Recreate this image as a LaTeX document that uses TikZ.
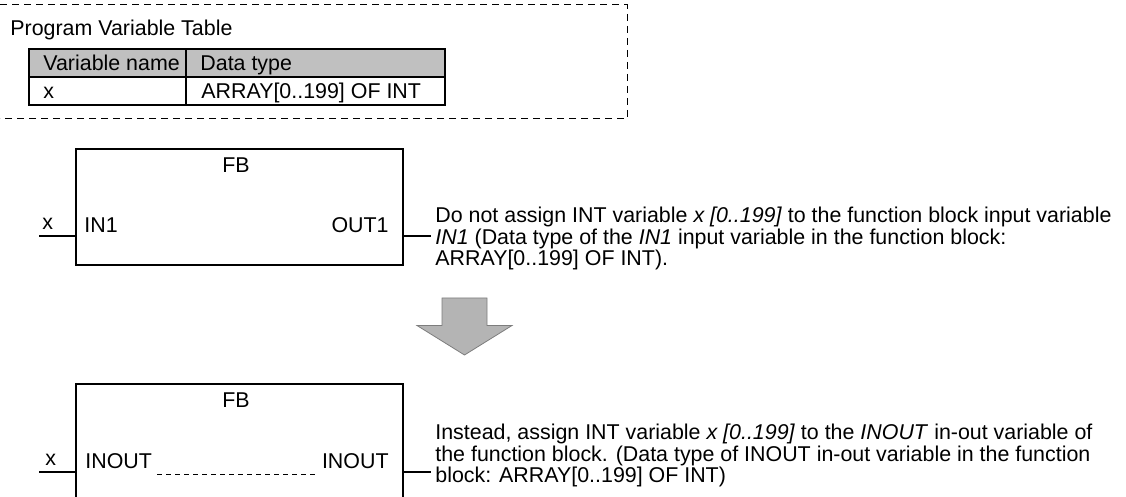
\documentclass[tikz,border=0pt]{standalone}
\usepackage{fontspec}
\setmainfont{Liberation Sans}
\usetikzlibrary{positioning}
\definecolor{hdrgray}{RGB}{192,192,192}
\definecolor{arrowgray}{RGB}{180,180,180}
\definecolor{arrowedge}{RGB}{125,125,125}

\begin{document}
\begin{tikzpicture}[x=0.5pt,y=-0.5pt,
  every node/.style={font=\fontsize{10.7}{11}\selectfont,inner sep=0pt},
  dashframe/.style={line width=.5pt,dash pattern=on 3.6pt off 2.4pt},
  tblline/.style={line width=.7pt},
  fbbox/.style={draw,line width=.65pt,minimum width=163.5pt,minimum height=58pt},
  wire/.style={line width=.6pt},
  portlbl/.style={anchor=base west},
  remark/.style={anchor=base west,align=left,font=\fontsize{10.7}{10.75}\selectfont},
  bigarrow/.style={fill=arrowgray,draw=arrowedge,line width=.4pt}]
  \useasboundingbox (0,0) rectangle (1126,497);
  \clip (0,0) rectangle (1126,497);
  \draw[dashframe] (0,5) -- (627,5) -- (627,119) -- (0,119);
  \node[portlbl] (tbltitle) at (10,36) {Program Variable Table};
  \fill[hdrgray] (29,49) rectangle (445,77);
  \draw[tblline] (29,49) rectangle (445,105) (29,77) -- (445,77) (186,49) -- (186,105);
  \node[portlbl] (hdrname) at (43,70.5) {Variable name};
  \node[portlbl] (hdrtype) at (200,70.5) {Data type};
  \node[portlbl] (varname) at (43,99) {x};
  \node[portlbl] (vartype) at (201,99) {ARRAY[0..199] OF INT};

  \node[fbbox] (fbA) at (239.5,207) {};
  \node[fbbox] (fbB) at (239.5,442) {};
  \node[anchor=base] (fbnameA) at (236,173) {FB};
  \node[anchor=base] (fbnameB) at (236,408) {FB};

  \coordinate (xA) at (39,236);
  \coordinate (outA) at (431,236);
  \node[portlbl] (xlblA) at (42,230) {x};
  \node[portlbl] (in1) at (84,233) {IN1};
  \node[anchor=base east] (out1) at (389,233) {OUT1};
  \draw[wire] (xA) -- (xA -| fbA.west);
  \draw[wire] (outA -| fbA.east) -- (outA);
  \node[remark] (noteA) at (435,266) {Do not assign INT variable \textit{x [0..199]} to the function block input variable\\
    \textit{IN1} (Data type of the \textit{IN1} input variable in the function block:\\
    ARRAY[0..199] OF INT).};

  \draw[bigarrow] (442,298) -- (487,298) -- (487,325.5) -- (512,325.5) -- (464.5,355)
    -- (417,325.5) -- (442,325.5) -- cycle;

  \coordinate (xB) at (39,472);
  \coordinate (outB) at (431,472);
  \node[portlbl] (xlblB) at (45,466) {x};
  \node[portlbl] (inoutL) at (85,469) {INOUT};
  \node[anchor=base east] (inoutR) at (389,469) {INOUT};
  \draw[wire] (xB) -- (xB -| fbB.west);
  \draw[wire] (outB -| fbB.east) -- (outB);
  \draw[line width=.5pt,dash pattern=on 2.5pt off 2pt]
    ([shift={(2.5pt,-3pt)}]inoutL.base east) -- ([shift={(-2.5pt,-3pt)}]inoutR.base west);
  \node[remark] (noteB) at (435,483) {Instead, assign INT variable \textit{x [0..199]} to the \textit{INOUT} in-out variable of\\
    the function block. (Data type of INOUT in-out variable in the function\\
    block: ARRAY[0..199] OF INT)};
\end{tikzpicture}
\end{document}
